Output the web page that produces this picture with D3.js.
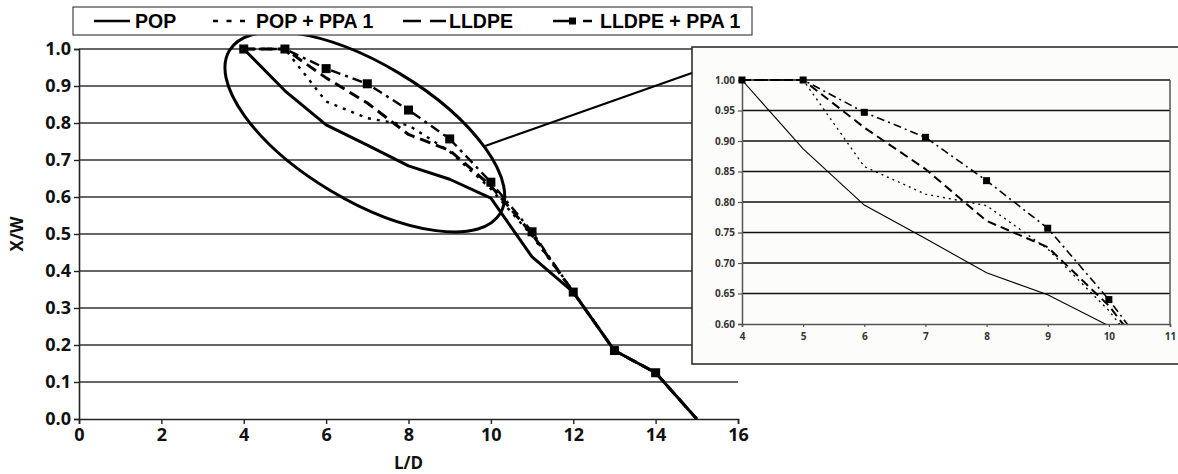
<!DOCTYPE html>
<html><head><meta charset="utf-8">
<script src="https://cdn.jsdelivr.net/npm/d3@7"></script>
<style>
html,body{margin:0;padding:0;background:#fff;}
svg{display:block;}
</style></head>
<body>
<svg id="c" width="1178" height="474"></svg>
<script>
// ---- data ----
const LD = [4, 5, 6, 7, 8, 9, 10, 11, 12, 13, 14, 15];
const POP        = [1.0, 0.887, 0.795, 0.740, 0.684, 0.648, 0.597, 0.438, 0.343, 0.185, 0.125, 0.0];
const POP_PPA1   = [1.0, 1.0, 0.858, 0.813, 0.794, 0.723, 0.622, 0.495, 0.343, 0.185, 0.125, 0.0];
const LLDPE      = [1.0, 1.0, 0.922, 0.854, 0.769, 0.726, 0.630, 0.500, 0.343, 0.185, 0.125, 0.0];
const LLDPE_PPA1 = [1.0, 1.0, 0.947, 0.906, 0.835, 0.757, 0.640, 0.506, 0.343, 0.185, 0.125];
const seriesNames = ["POP", "POP + PPA 1", "LLDPE", "LLDPE + PPA 1"];
const xTicks = [0, 2, 4, 6, 8, 10, 12, 14, 16];
const yTicks = [0, 0.1, 0.2, 0.3, 0.4, 0.5, 0.6, 0.7, 0.8, 0.9, 1.0];
const insetXTicks = [4, 5, 6, 7, 8, 9, 10, 11];
const insetYTicks = [0.60, 0.65, 0.70, 0.75, 0.80, 0.85, 0.90, 0.95, 1.00];
// annotation (data units): ellipse centre and leader line
const ellipseCentre = [6.94, 0.776];
const leader = [[9.86, 0.738], [14.88, 0.935]];

const svg = d3.select("#c");
const series = [
  {name: seriesNames[0], v: POP},
  {name: seriesNames[1], v: POP_PPA1},
  {name: seriesNames[2], v: LLDPE},
  {name: seriesNames[3], v: LLDPE_PPA1, marker: true}
];
const mainStyle = [
  {w: 3, dash: null},
  {w: 2.4, dash: "3,6"},
  {w: 3, dash: "11,6"},
  {w: 2.4, dash: "10,5,3,5"}
];
const insetStyle = [
  {w: 1.1, dash: null},
  {w: 1.3, dash: "2,4"},
  {w: 2, dash: "9,5"},
  {w: 1.6, dash: "8,4,2,4"}
];
const FONT = "'Open Sans', sans-serif";

// ---- main chart ----
const x = d3.scaleLinear().domain([0, 16]).range([79, 738]);
const y = d3.scaleLinear().domain([0, 1]).range([419, 49]);

const g = svg.append("g");
g.selectAll("line.grid").data(yTicks.filter(d => d > 0)).enter().append("line")
  .attr("x1", x(0)).attr("x2", x(16))
  .attr("y1", d => y(d)).attr("y2", d => y(d))
  .attr("stroke", "#333").attr("stroke-width", 1.5);

const yAx = g.append("g").attr("transform", `translate(${x(0)},0)`)
  .call(d3.axisLeft(y).tickValues(yTicks).tickFormat(d3.format(".1f")).tickSize(5).tickPadding(3));
const xAx = g.append("g").attr("transform", `translate(0,${y(0)})`)
  .call(d3.axisBottom(x).tickValues(xTicks).tickFormat(d3.format("d")).tickSize(5).tickPadding(4));
[yAx, xAx].forEach(a => {
  a.attr("font-size", null).attr("font-family", null);
  a.select(".domain").attr("stroke", "#222").attr("stroke-width", 1.6);
  a.selectAll(".tick line").attr("stroke", "#222").attr("stroke-width", 1.4);
  a.selectAll("text").style("font-family", FONT).style("font-weight", "bold")
    .style("font-size", "18px").attr("fill", "#111");
});

g.append("text").attr("x", (x(0) + x(16)) / 2).attr("y", 469).attr("text-anchor", "middle")
  .style("font-family", FONT).style("font-weight", "bold").style("font-size", "17px")
  .attr("fill", "#111").text("L/D");
g.append("text").attr("transform", `translate(23,${(y(0) + y(1)) / 2}) rotate(-90)`)
  .attr("text-anchor", "middle")
  .style("font-family", FONT).style("font-weight", "bold").style("font-size", "17px")
  .attr("fill", "#111").text("X/W");

const line = d3.line().x((d, i) => x(LD[i])).y(d => y(d));
series.forEach((s, k) => {
  g.append("path").attr("d", line(s.v)).attr("fill", "none").attr("stroke", "#000")
    .attr("stroke-width", mainStyle[k].w).attr("stroke-dasharray", mainStyle[k].dash)
    .attr("stroke-linejoin", "round");
  if (s.marker) {
    g.selectAll(null).data(s.v).enter().append("rect")
      .attr("x", (d, i) => x(LD[i]) - 4.5).attr("y", d => y(d) - 4.5)
      .attr("width", 9).attr("height", 9).attr("fill", "#000");
  }
});

g.append("ellipse")
  .attr("transform", `translate(${x(ellipseCentre[0])},${y(ellipseCentre[1])}) rotate(31)`)
  .attr("rx", 158).attr("ry", 68)
  .attr("fill", "none").attr("stroke", "#000").attr("stroke-width", 3);

// ---- inset ----
const ix = d3.scaleLinear().domain([4, 11]).range([742, 1170]);
const iy = d3.scaleLinear().domain([0.6, 1.0]).range([324, 80]);
const ig = svg.append("g");
ig.append("rect").attr("x", 692).attr("y", 47).attr("width", 520).attr("height", 317)
  .attr("fill", "#fcfcfa").attr("stroke", "#222").attr("stroke-width", 1.5);

ig.selectAll("line.ig").data(insetYTicks.filter(d => d > 0.6)).enter().append("line")
  .attr("x1", ix(4)).attr("x2", ix(11)).attr("y1", d => iy(d)).attr("y2", d => iy(d))
  .attr("stroke", "#111").attr("stroke-width", 1.5);
ig.append("line").attr("x1", ix(11)).attr("x2", ix(11)).attr("y1", iy(1)).attr("y2", iy(0.6))
  .attr("stroke", "#555").attr("stroke-width", 1.5);

const iyAx = ig.append("g").attr("transform", `translate(${ix(4)},0)`)
  .call(d3.axisLeft(iy).tickValues(insetYTicks).tickFormat(d3.format(".2f")).tickSize(4).tickPadding(3));
const ixAx = ig.append("g").attr("transform", `translate(0,${iy(0.6)})`)
  .call(d3.axisBottom(ix).tickValues(insetXTicks).tickFormat(d3.format("d")).tickSize(3).tickPadding(6));
[iyAx, ixAx].forEach(a => {
  a.attr("font-size", null).attr("font-family", null);
  a.select(".domain").attr("stroke", "#555").attr("stroke-width", 1.5);
  a.selectAll(".tick line").attr("stroke", "#555").attr("stroke-width", 1.2);
  a.selectAll("text").style("font-family", FONT).style("font-weight", "bold")
    .style("font-size", "10px").attr("fill", "#333");
});

ig.append("clipPath").attr("id", "iclip").append("rect")
  .attr("x", ix(4) - 5).attr("y", iy(1) - 5).attr("width", ix(11) - ix(4) + 10).attr("height", iy(0.6) - iy(1) + 5);
const ip = ig.append("g").attr("clip-path", "url(#iclip)");
const iline = d3.line().x((d, i) => ix(LD[i])).y(d => iy(d));
series.forEach((s, k) => {
  ip.append("path").attr("d", iline(s.v)).attr("fill", "none").attr("stroke", "#000")
    .attr("stroke-width", insetStyle[k].w).attr("stroke-dasharray", insetStyle[k].dash);
  if (s.marker) {
    ip.selectAll(null).data(s.v.filter((d, i) => LD[i] <= 11)).enter().append("rect")
      .attr("x", (d, i) => ix(LD[i]) - 3.5).attr("y", d => iy(d) - 3.5)
      .attr("width", 7).attr("height", 7).attr("fill", "#000");
  }
});

svg.append("line").attr("x1", x(leader[0][0])).attr("y1", y(leader[0][1]))
  .attr("x2", x(leader[1][0])).attr("y2", y(leader[1][1]))
  .attr("stroke", "#000").attr("stroke-width", 2);

// ---- legend ----
const lg = svg.append("g");
lg.append("rect").attr("x", 73).attr("y", 7).attr("width", 679).attr("height", 28)
  .attr("fill", "#fff").attr("stroke", "#444").attr("stroke-width", 1.2);
const legItems = [
  {x0: 94, x1: 130, tx: 135, k: 0},
  {x0: 213, x1: 252, tx: 256, k: 1},
  {x0: 403, x1: 446, tx: 449, k: 2},
  {x0: 553, x1: 592, tx: 600, k: 3}
];
const legDash = [null, "5,8.5", "18,9", null];
legItems.forEach(it => {
  if (it.k === 3) {
    lg.append("line").attr("x1", it.x0).attr("x2", 570).attr("y1", 21).attr("y2", 21)
      .attr("stroke", "#000").attr("stroke-width", 2.5);
    lg.append("rect").attr("x", 569).attr("y", 17.5).attr("width", 7).attr("height", 7).attr("fill", "#000");
    lg.append("line").attr("x1", 583).attr("x2", it.x1).attr("y1", 21).attr("y2", 21)
      .attr("stroke", "#000").attr("stroke-width", 2.5);
  } else {
    lg.append("line").attr("x1", it.x0).attr("x2", it.x1).attr("y1", 21).attr("y2", 21)
      .attr("stroke", "#000").attr("stroke-width", 2.5).attr("stroke-dasharray", legDash[it.k]);
  }
  lg.append("text").attr("x", it.tx).attr("y", 28)
    .style("font-family", "'Liberation Sans', Arial, sans-serif").style("font-weight", "bold")
    .style("font-size", "19.5px").attr("fill", "#000").text(seriesNames[it.k]);
});
</script>
</body></html>
